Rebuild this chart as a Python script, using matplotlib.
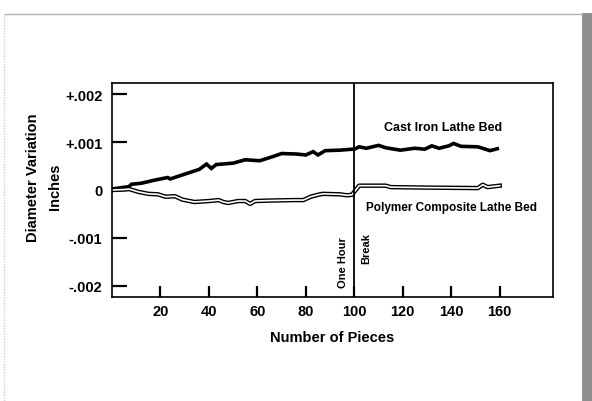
import matplotlib
matplotlib.use("Agg")
import matplotlib.pyplot as plt
from matplotlib.patches import Rectangle
from matplotlib.lines import Line2D

plt.rcParams['font.family'] = ['Liberation Sans', 'DejaVu Sans']
plt.rcParams['font.weight'] = 'bold'

# Cast iron lathe bed (inches)
cast_x = [0, 4, 7, 8, 12, 18, 23, 24, 30, 36, 39, 41, 43, 50, 55, 61, 66, 70, 76,
          80, 83, 85, 88, 94, 99, 100, 102, 105, 110, 113, 119, 125, 129, 132, 135,
          139, 141, 144, 151, 156, 159]
cast_y = [0.00002, 0.00005, 0.00007, 0.00012, 0.00014, 0.00021, 0.00026, 0.00023,
          0.00033, 0.00043, 0.00054, 0.00045, 0.00053, 0.00056, 0.00063, 0.00061,
          0.00069, 0.00076, 0.00075, 0.00073, 0.00080, 0.00073, 0.00082, 0.00083,
          0.00085, 0.00085, 0.00090, 0.00087, 0.00093, 0.00088, 0.00083, 0.00087,
          0.00085, 0.00092, 0.00087, 0.00092, 0.00097, 0.00091, 0.00090, 0.00082,
          0.00086]

# Polymer composite lathe bed (inches)
poly_x = [0, 5, 7, 11, 15, 19, 22, 26, 29, 34, 40, 44, 46, 48, 52, 55, 57, 59, 65,
          75, 79, 82, 85, 87, 94, 97, 99, 102, 113, 115, 130, 151, 153, 155, 160]
poly_y = [0.0, 0.00001, 0.00002, -0.00004, -0.00008, -0.00009, -0.00014, -0.00013,
          -0.00020, -0.00025, -0.00023, -0.00021, -0.00025, -0.00027, -0.00023,
          -0.00023, -0.00029, -0.00023, -0.00022, -0.00021, -0.00021, -0.00014,
          -0.00010, -0.00008, -0.00009, -0.00011, -0.00010, 0.00009, 0.00009,
          0.00006, 0.00005, 0.00004, 0.00011, 0.00006, 0.00009]

x_ticks = [20, 40, 60, 80, 100, 120, 140, 160]
y_ticks = [0.002, 0.001, 0.0, -0.001, -0.002]
y_ticklabels = ['+.002', '+.001', '0', '-.001', '-.002']
break_x = 100

fig = plt.figure(figsize=(5.92, 4.02), dpi=100)
fig.patch.set_facecolor('white')

# scanned page border
fig.patches.append(Rectangle((582/592, 0), 10/592, (402-14)/402, transform=fig.transFigure,
                             facecolor='#8f8f8f', edgecolor='none'))
fig.lines.append(Line2D([5/592, 582/592], [1-15/402, 1-15/402], transform=fig.transFigure,
                        color='#b0b0b0', lw=1.0))
fig.lines.append(Line2D([4/592, 4/592], [0, 1-15/402], transform=fig.transFigure,
                        color='#cfcfcf', lw=1.0, ls=(0, (1, 1))))

ax = fig.add_axes([112/592, 104/402, 441/592, 214/402])
ax.set_xlim(0, 182)
ax.set_ylim(-0.00223, 0.00223)

ax.plot(cast_x, cast_y, color='black', lw=2.6, solid_joinstyle='miter')
ax.plot(poly_x, poly_y, color='black', lw=3.2)
ax.plot(poly_x, poly_y, color='white', lw=1.2)

ax.axvline(break_x, color='black', lw=1.3)

ax.set_xticks(x_ticks)
ax.set_xticklabels([str(v) for v in x_ticks])
ax.set_yticks(y_ticks)
ax.set_yticklabels(y_ticklabels)
ax.tick_params(axis='y', direction='in', length=11, width=1.6, pad=7, labelsize=10.5)
ax.tick_params(axis='x', direction='in', length=8, width=1.6, pad=5, labelsize=10.5)
for lab in ax.get_xticklabels() + ax.get_yticklabels():
    lab.set_fontweight('bold')
for s in ax.spines.values():
    s.set_linewidth(1.2)

ax.set_xlabel('Number of Pieces', fontsize=10.5, fontweight='bold', labelpad=9)

fig.text(33/592, 1-178/402, 'Diameter Variation', rotation=90, ha='center', va='center',
         fontsize=10.5, fontweight='bold')
fig.text(55/592, 1-187/402, 'Inches', rotation=90, ha='center', va='center',
         fontsize=10.5, fontweight='bold')

ax.text(136.5, 0.00132, 'Cast Iron Lathe Bed', ha='center', va='center', fontsize=9,
        fontweight='bold')
ax.text(140, -0.00035, 'Polymer Composite Lathe Bed', ha='center', va='center',
        fontsize=8.5, fontweight='bold')
ax.text(95.5, -0.00202, 'One Hour', rotation=90, ha='center', va='bottom', fontsize=8,
        fontweight='bold')
ax.text(104.8, -0.00088, 'Break', rotation=90, ha='center', va='top', fontsize=8,
        fontweight='bold')

fig.savefig('out.png', dpi=100)
